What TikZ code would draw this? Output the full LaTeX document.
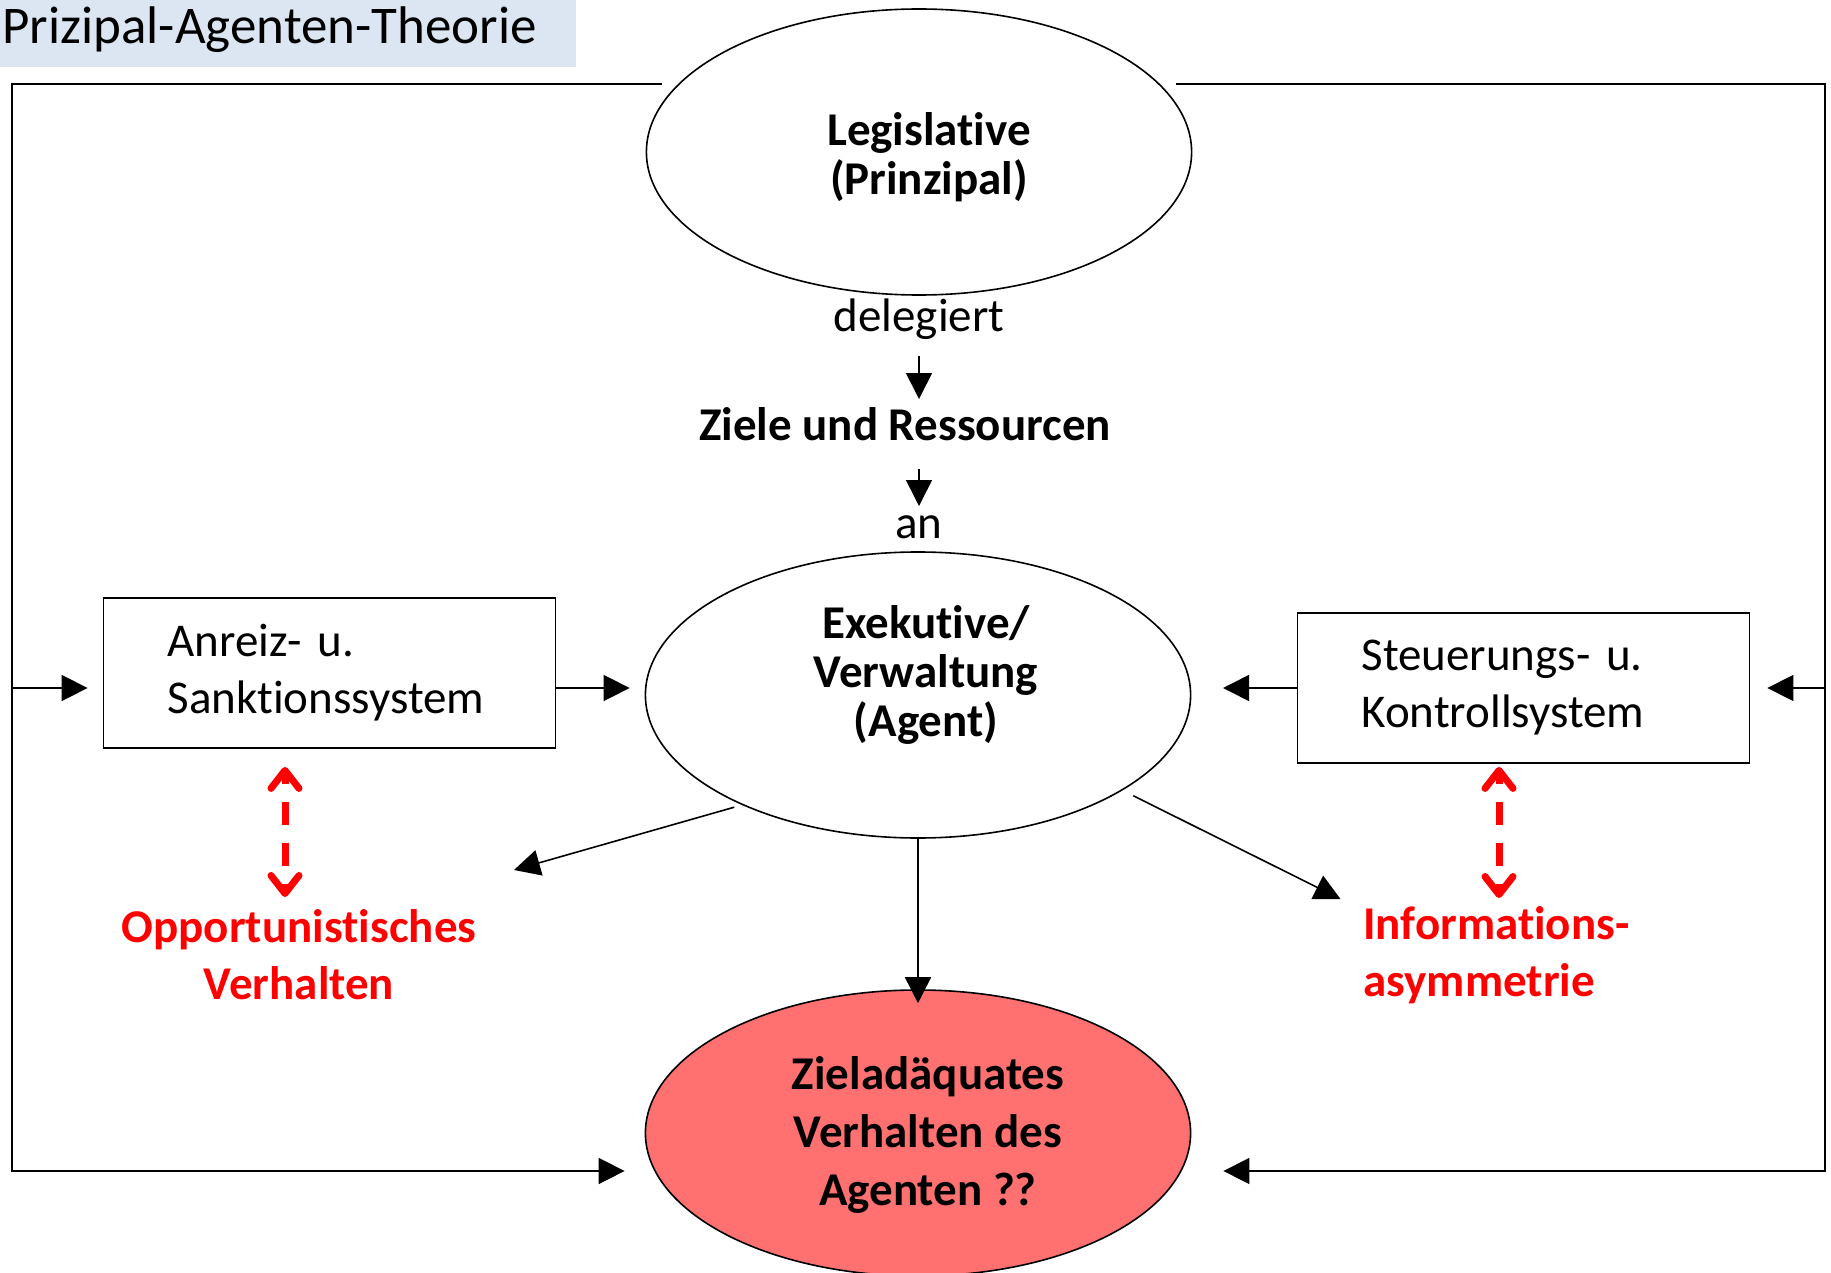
\documentclass[tikz,border=0pt]{standalone}
\usepackage{fontspec}
\setmainfont{Carlito}[Ligatures={NoCommon,NoContextual,NoRare},Contextuals=NoAlternate]
\usetikzlibrary{shapes.geometric,arrows.meta,positioning,calc}
\definecolor{titleblue}{HTML}{DCE6F2}
\definecolor{zielred}{HTML}{FF7171}
\tikzstyle{ell}=[draw, ellipse, line width=0.8pt, minimum width=272.6pt, minimum height=143pt, inner sep=0pt]
\tikzstyle{elltext}=[align=center, font=\bfseries\fontsize{23.5}{24.5}\selectfont]
\tikzstyle{sysbox}=[draw, line width=0.9pt, minimum height=75pt, text width=162pt, inner xsep=32pt, align=left, font=\fontsize{23.5}{28.5}\selectfont]
\tikzstyle{arrow}=[line width=0.8pt,-{Triangle[length=13pt,width=13pt]}]
\tikzstyle{redtxt}=[text=red, inner sep=0pt, font=\bfseries\fontsize{23.5}{28.5}\selectfont]
\tikzstyle{redarrow}=[red, line width=3.5pt, dash pattern=on 11.5pt off 9pt, dash phase=6.5pt, {Straight Barb[length=9pt,width=14pt,round]}-{Straight Barb[length=9pt,width=14pt,round]}]
\tikzstyle{plain}=[inner sep=0pt, font=\fontsize{23.5}{28.5}\selectfont]

\begin{document}
\begin{tikzpicture}[x=0.5pt,y=-0.5pt]
    \useasboundingbox (0,0) rectangle (1831,1273);
    % title
    \node[fill=titleblue, anchor=north west, text width=286pt, align=left, inner xsep=1pt, inner ysep=0pt, text height=21.5pt, text depth=12pt, font=\fontsize{26.5}{30}\selectfont] (title) at (0,0) {Prizipal-Agenten-Theorie};
    % ellipses
    \node[ell] (leg) at (919,152) {};
    \node[elltext] (legtxt) at ([xshift=5pt,yshift=-2.8pt]leg.center) {Legislative\\(Prinzipal)};
    \node[ell] (exe) at (918,695) {};
    \node[elltext] (exetxt) at ([xshift=4pt,yshift=10pt]exe.center) {Exekutive/\\Verwaltung\\(Agent)};
    \node[ell, fill=zielred] (ziel) at (918,1133) {};
    \node[elltext, font=\bfseries\fontsize{23.5}{29}\selectfont] (zieltxt) at ([xshift=5pt,yshift=-1pt]ziel.center) {Zieladäquates\\Verhalten des\\Agenten ??};
    % delegation
    \node[plain] (deleg) at (919,319) {delegiert};
    \node[plain, font=\bfseries\fontsize{23.5}{28.5}\selectfont] (zr) at (905,424) {Ziele und Ressourcen};
    \node[plain] (an) at (919,527) {an};
    % systems
    \node[sysbox] (anreiz) at (329.5,673) {Anreiz- u.\\Sanktionssystem};
    \node[sysbox] (steuer) at (1523.5,688) {Steuerungs- u.\\Kontrollsystem};
    % problems
    \node[redtxt, align=center] (opp) at (299,955) {Opportunistisches\\Verhalten};
    \node[redtxt, align=left, anchor=west] (info) at (1363,955) {Informations-\\asymmetrie};
    % frame
    \coordinate (ltop) at (662,84);
    \coordinate (lcorner) at (12,84);
    \coordinate (lbot) at (12,1171);
    \coordinate (lmid) at (12,688);
    \coordinate (rtop) at (1176,84);
    \coordinate (rcorner) at (1825,84);
    \coordinate (rbot) at (1825,1171);
    \coordinate (rmid) at (1825,688);
    \coordinate (oppTip) at (514,870);
    \coordinate (infoTip) at (1340.5,899);
    \coordinate (oppTop) at (285,897);
    \coordinate (infoTop) at (1499,898);
    \draw[arrow, shorten >=10pt] (ltop) -- (lcorner) -- (lbot) -- (lbot -| ziel.west);
    \draw[arrow, shorten >=16pt] (rtop) -- (rcorner) -- (rbot) -- (rbot -| ziel.east);
    \draw[arrow, shorten >=7.5pt] (lmid) -- (lmid -| anreiz.west);
    \draw[arrow, shorten >=7.5pt] (lmid -| anreiz.east) -- (lmid -| exe.west);
    \draw[arrow, shorten >=8.5pt] (rmid) -- (steuer.east);
    \draw[arrow, shorten >=15.8pt] (steuer.west) -- (steuer.west -| exe.east);
    \draw[arrow, shorten >=-7pt] (exe) -- (ziel);
    \draw[arrow, shorten <=4pt] (exe.212) -- (oppTip);
    \draw[arrow, shorten <=6pt] (exe.335) -- (infoTip);
    \draw[arrow, shorten <=18.5pt, shorten >=12.5pt] (deleg.center) -- (deleg.center |- zr.center);
    \draw[arrow, shorten <=22.5pt, shorten >=10.5pt] (an.center |- zr.center) -- (an.center);
    \draw[redarrow, shorten <=9pt] (anreiz.south -| oppTop) -- (oppTop);
    \draw[redarrow, shorten <=1.5pt] (steuer.south -| infoTop) -- (infoTop);
\end{tikzpicture}
\end{document}
